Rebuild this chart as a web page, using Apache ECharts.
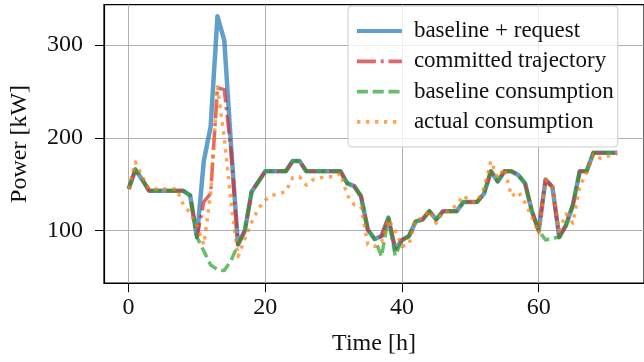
<!DOCTYPE html>
<html>
<head>
<meta charset="utf-8">
<script src="https://cdn.jsdelivr.net/npm/echarts@6/dist/echarts.min.js"></script>
<style>
  html, body { margin: 0; padding: 0; background: #fff; }
  #chart { width: 644px; height: 362px; }
</style>
</head>
<body>
<div id="chart"></div>
<script>
// time axis, hours
const hours = [
  0, 1, 2, 3, 4, 5, 6, 7, 8, 9,
  10, 11, 12, 13, 14, 15, 16, 17, 18, 19,
  20, 21, 22, 23, 24, 25, 26, 27, 28, 29,
  30, 31, 32, 33, 34, 35, 36, 37, 38, 39,
  40, 41, 42, 43, 44, 45, 46, 47, 48, 49,
  50, 51, 52, 53, 54, 55, 56, 57, 58, 59,
  60, 61, 62, 63, 64, 65, 66, 67, 68, 69,
  70, 71.5
]

// baseline + request [kW]
const baselineRequest = [
  145, 166, 155, 143, 143, 143, 143, 143, 143, 138,
  93, 175, 212, 331, 305, 190, 85, 100, 142, 153,
  164, 164, 164, 164, 175, 175, 164, 164, 164, 164,
  164, 164, 151, 148, 137, 101, 91, 94, 114, 80,
  90, 94, 110, 112, 121, 112, 121, 121, 121, 131,
  131, 131, 140, 164, 153, 164, 164, 160, 151, 121,
  100, 155, 147, 93, 106, 128, 164, 164, 184, 184,
  184, 184
]

// committed trajectory [kW]
const committed = [
  145, 166, 155, 143, 143, 143, 143, 143, 143, 138,
  93, 131, 140, 254, 252, 185, 85, 100, 142, 153,
  164, 164, 164, 164, 175, 175, 164, 164, 164, 164,
  164, 164, 151, 148, 137, 101, 91, 94, 114, 80,
  90, 94, 110, 112, 121, 112, 121, 121, 121, 131,
  131, 131, 140, 164, 153, 164, 164, 160, 151, 121,
  100, 155, 147, 93, 106, 128, 164, 164, 184, 184,
  184, 184
]

// baseline consumption [kW]
const baseline = [
  145, 166, 155, 143, 143, 143, 143, 143, 143, 138,
  93, 78, 63, 58, 57, 68, 85, 100, 142, 153,
  164, 164, 164, 164, 175, 175, 164, 164, 164, 164,
  164, 164, 151, 148, 137, 101, 91, 72, 114, 73,
  90, 94, 110, 112, 121, 112, 121, 121, 121, 131,
  131, 131, 140, 164, 153, 164, 164, 160, 151, 121,
  100, 90, 92, 93, 106, 128, 164, 164, 184, 184,
  184, 184
]

// actual consumption [kW]
const actual = [
  145, 174, 158, 145, 145, 145, 145, 145, 128, 119,
  105, 85, 140, 255, 200, 130, 72, 91, 109, 124,
  133, 138, 140, 142, 157, 158, 149, 155, 157, 158,
  158, 162, 138, 128, 126, 85, 83, 88, 112, 100,
  83, 85, 112, 113, 122, 108, 120, 121, 128, 138,
  131, 131, 146, 175, 157, 167, 137, 142, 130, 115,
  97, 155, 147, 100, 118, 108, 148, 162, 182, 178,
  180, 183
]

const xTicks = [0, 20, 40, 60]
const yTicks = [100, 200, 300]

const FONT = '"Liberation Serif", "Times New Roman", serif'
const TEXT = '#111'

const pairs = arr => hours.map((h, i) => [h, arr[i]])

const chart = echarts.init(document.getElementById('chart'), null, { renderer: 'canvas' })

const lineSeries = (name, data, color, width, type) => ({
  name,
  type: 'line',
  data: pairs(data),
  showSymbol: false,
  symbol: 'none',
  animation: false,
  lineStyle: { color, width, type, cap: 'butt', join: 'round' },
  itemStyle: { color },
  emphasis: { disabled: true }
})

const option = {
  animation: false,
  grid: {
    left: 102.4,
    top: 4.6,
    width: 546,
    height: 278.6,
    show: true,
    borderColor: '#000',
    borderWidth: 1.2,
    backgroundColor: 'transparent'
  },
  legend: {
    orient: 'vertical',
    left: 348,
    top: 6,
    padding: [13, 4, 13, 7],
    itemWidth: 45,
    itemHeight: 20,
    itemGap: 6.3,
    itemStyle: { opacity: 0 },
    lineStyle: { width: 3.8 },
    backgroundColor: 'rgba(255,255,255,0.8)',
    borderColor: '#cccccc',
    borderWidth: 1,
    borderRadius: 4,
    textStyle: {
      fontFamily: FONT,
      fontSize: 23,
      lineHeight: 24,
      color: TEXT,
      padding: [0, 0, 0, 7]
    },
    data: ['baseline + request', 'committed trajectory', 'baseline consumption', 'actual consumption']
  },
  xAxis: {
    type: 'value',
    min: -3.6,
    max: 75.4,
    name: 'Time [h]',
    nameLocation: 'middle',
    nameGap: 49,
    nameTextStyle: { fontFamily: FONT, fontSize: 24, color: TEXT },
    axisLine: { show: true, onZero: false, lineStyle: { color: '#000', width: 1.2 } },
    axisTick: { show: true, inside: false, length: 9, lineStyle: { color: '#000', width: 1 }, customValues: xTicks },
    axisLabel: { fontFamily: FONT, fontSize: 24, color: TEXT, margin: 13, customValues: xTicks },
    splitLine: { show: true, lineStyle: { color: '#b0b0b0', width: 1 } }
  },
  yAxis: {
    type: 'value',
    min: 43.4,
    max: 343.6,
    name: 'Power [kW]',
    nameLocation: 'middle',
    nameGap: 72,
    nameTextStyle: { fontFamily: FONT, fontSize: 24, color: TEXT },
    axisLine: { show: true, onZero: false, lineStyle: { color: '#000', width: 1.2 } },
    axisTick: { show: true, inside: false, length: 9, lineStyle: { color: '#000', width: 1 }, customValues: yTicks },
    axisLabel: { fontFamily: FONT, fontSize: 24, color: TEXT, margin: 21, customValues: yTicks },
    splitLine: { show: true, lineStyle: { color: '#b0b0b0', width: 1 } }
  },
  series: [
    lineSeries('baseline + request', baselineRequest, 'rgba(31,119,180,0.7)', 4.5, 'solid'),
    lineSeries('committed trajectory', committed, 'rgba(214,39,40,0.7)', 3.5, [19, 4.8, 3, 4.8]),
    lineSeries('baseline consumption', baseline, 'rgba(44,160,44,0.7)', 3.5, [11, 4.8]),
    lineSeries('actual consumption', actual, 'rgba(255,127,14,0.7)', 3.5, [3.5, 5.5])
  ]
}

chart.setOption(option)
</script>
</body>
</html>
